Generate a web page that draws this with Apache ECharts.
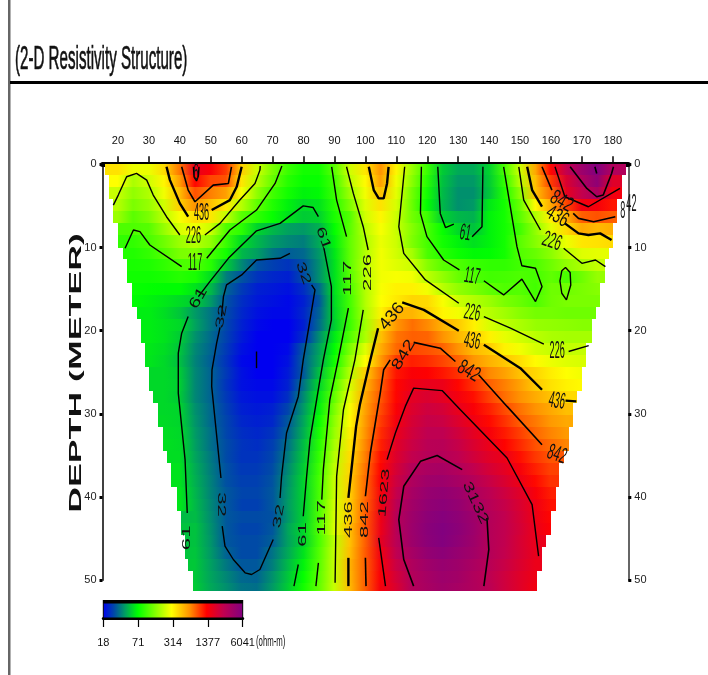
<!DOCTYPE html>
<html lang="en">
<head>
    <meta charset="UTF-8">
    <title>2-D Resistivity Structure</title>
    <script src="https://cdn.jsdelivr.net/npm/echarts@6/dist/echarts.min.js"></script>
    <style>
        html, body { margin: 0; padding: 0; background: #fff; }
        #main { width: 708px; height: 675px; }
    </style>
</head>
<body>
<div id="main"></div>
<script>
    var labelFont = '"Liberation Sans", sans-serif';

    /** tick labels */
    var distanceTicks = [20, 30, 40, 50, 60, 70, 80, 90, 100, 110, 120, 130, 140, 150, 160, 170, 180];
    var depthTicks = [0, 10, 20, 30, 40, 50];
    var colorbarLabels = ['18', '71', '314', '1377', '6041'];

    /** section grid: resistivity (ohm-m) per row at each distance column */
    var columnDistances = [15, 20, 25, 30, 35, 40, 45, 50, 55, 60, 65, 70, 75, 80, 85, 90, 95, 100, 105, 110, 115, 120, 125, 130, 135, 140, 145, 150, 155, 160, 165, 170, 175, 180, 185];
    var rowEdges = [0, 1.34, 2.78, 4.23, 5.67, 7.11, 8.55, 10, 11.44, 12.88, 14.32, 15.76, 17.2, 18.65, 20.09, 21.53, 22.97, 24.41, 25.86, 27.3, 28.74, 30.18, 31.62, 33.06, 34.51, 35.95, 37.39, 38.83, 40.27, 41.72, 43.16, 44.6, 46.04, 47.48, 48.92, 50.37, 51.3];
    var rowLeft = [15.8, 17.2, 17.2, 18.5, 18.5, 20.1, 20.1, 21.5, 22.8, 22.8, 24.4, 24.4, 26, 27.3, 27.3, 28.7, 28.7, 30.1, 30.1, 31.4, 33, 33, 34.4, 34.4, 35.9, 37.3, 37.3, 39, 39, 40.3, 40.3, 41.7, 41.7, 42.8, 44.4, 44.4];
    var rowRight = [184.3, 183, 183, 181.4, 181.4, 180, 180, 178.7, 177.4, 177.4, 175.8, 175.8, 174.4, 173, 173, 171.4, 171.4, 170, 170, 168.6, 167.1, 167.1, 165.8, 165.8, 164.3, 162.8, 162.8, 161.4, 161.4, 160, 160, 158.5, 157.1, 157.1, 155.7, 155.7];
    var resistivity = [
        [420,380,280,280,400,750,1700,1400,1000,430,235,150,105,85,85,125,240,370,650,330,180,105,58,48,48,60,115,235,560,1300,2600,4200,5800,3200,2000],
        [400,310,195,240,330,600,1300,950,900,370,210,135,95,80,80,110,215,320,600,290,165,95,55,44,44,58,100,210,480,1000,2000,3300,5000,1900,1500],
        [250,230,170,200,290,480,900,720,600,300,170,110,85,72,75,105,180,290,480,270,145,85,53,42,42,56,90,165,470,780,1750,2600,3600,1500,1100],
        [240,210,150,175,240,430,650,480,360,210,130,92,72,62,66,95,150,260,380,250,140,78,52,42,44,68,85,135,320,560,950,1550,1450,1200,1000],
        [200,180,125,150,215,300,390,370,225,125,100,80,66,58,60,88,120,240,330,235,145,108,60,52,50,72,85,125,200,340,520,842,900,842,700],
        [160,150,117,122,175,250,290,235,118,98,61,52,46,44,50,78,125,215,300,230,160,115,80,62,55,72,85,110,170,270,400,560,500,540,400],
        [135,128,100,114,140,180,205,170,105,64,52,44,40,38,48,72,130,200,280,235,155,112,85,72,65,72,85,125,160,210,280,370,380,400,300],
        [118,112,92,102,122,150,155,112,85,52,45,36,32,34,44,68,130,205,290,240,190,115,95,82,75,76,85,120,135,165,215,260,270,270,230],
        [98,95,88,90,100,115,120,95,58,40,30,27,25,30,42,66,130,215,290,260,235,160,125,118,105,100,100,110,117,140,170,195,222,215,200],
        [90,88,84,84,88,95,88,64,38,30,25,23,22,29,42,66,125,210,290,300,290,215,170,135,118,110,112,117,112,130,114,140,175,175,170],
        [82,82,80,78,76,76,66,52,33,26,22,21,20,24,34,66,118,205,300,340,340,290,210,170,150,130,118,122,110,140,140,150,160,160,160],
        [78,78,76,72,68,63,58,44,30,24,21,20,19,22,31,64,112,205,310,360,410,400,300,232,205,180,150,135,117,140,150,150,150,150,150],
        [74,74,74,70,64,56,44,36,29,23,20,19,19,23,33,62,110,200,340,520,520,425,330,290,230,210,185,160,145,145,140,140,140,140,140],
        [72,72,72,70,66,62,46,36,28,22,19,18,18,22,35,60,108,190,400,640,780,680,520,440,340,250,215,195,175,170,165,160,160,160,160],
        [70,70,70,70,66,58,42,34,27,21,18,18,18,24,42,70,122,200,480,760,840,820,640,500,430,340,270,240,212,195,190,190,190,190,190],
        [68,68,68,68,64,56,40,33,26,20,18,18,19,31,46,76,150,260,540,800,950,900,830,650,500,440,340,290,245,228,222,225,220,220,220],
        [67,67,67,67,62,54,39,32,25,19,18,18,20,32,48,84,175,310,620,1000,1150,1080,960,830,640,530,460,390,320,280,260,250,250,250,250],
        [66,66,66,66,62,58,40,33,26,20,18,18,21,31,54,100,205,430,780,1200,1400,1350,1200,1050,880,690,590,470,410,350,310,290,280,280,280],
        [65,65,65,65,62,59,40,33,25,20,19,19,22,36,61,117,245,510,840,1300,1600,1700,1640,1300,1050,842,720,590,450,380,340,320,310,310,310],
        [65,65,65,65,62,58,40,33,26,21,20,20,24,40,68,130,270,560,870,1300,1800,2000,1800,1500,1250,980,790,660,550,470,400,370,360,360,360],
        [65,65,65,65,62,61,42,34,27,22,21,22,28,44,72,150,300,590,930,1400,1950,2300,2150,1700,1400,1150,930,770,650,560,480,440,440,440,440],
        [66,66,66,66,63,61,43,34,28,23,22,23,31,47,80,165,320,620,1000,1500,2100,2500,2400,1950,1550,1280,1050,850,740,620,560,520,520,520,520],
        [67,67,67,67,64,62,44,35,28,24,23,25,33,50,88,180,350,660,1080,1680,2250,2700,2700,2250,1780,1450,1180,980,810,700,620,580,580,580,580],
        [68,68,68,68,65,63,45,35,29,25,24,27,36,54,95,195,375,700,1150,1850,2400,2900,2950,2500,2000,1650,1320,1090,900,790,700,640,640,640,640],
        [68,68,68,68,66,64,47,37,29,25,25,28,38,56,100,205,395,720,1250,1950,2600,3050,3100,2750,2250,1850,1640,1250,1020,880,780,720,720,720,720],
        [70,70,70,70,68,66,49,38,30,26,26,29,40,58,105,215,410,750,1300,2100,3050,3500,3700,3200,2650,2150,1800,1450,1150,970,850,800,800,800,800],
        [70,70,70,70,68,66,50,39,30,27,27,30,42,60,110,225,425,780,1380,2300,3300,4000,4200,3700,3100,2500,2050,1620,1280,1050,920,850,850,850,850],
        [70,70,70,70,68,67,51,39,31,28,28,31,44,61,115,235,440,820,1450,2600,3700,4500,4800,4300,3400,2800,2300,1850,1430,1150,980,900,900,900,900],
        [70,70,70,70,68,67,52,40,31,27,27,31,45,60,118,245,450,842,1550,2900,3900,4800,5200,4600,3700,3000,2500,2000,1560,1230,1040,950,950,950,950],
        [70,70,70,70,68,66,53,41,31,29,29,30,44,60,117,250,440,860,1620,3000,4100,5100,5600,5000,4100,3150,2650,2100,1600,1300,1100,1000,1000,1000,1000],
        [68,68,68,68,66,64,55,42,31,28,28,31,47,62,120,255,480,870,1650,3000,4200,5300,5900,5200,4200,3120,2650,2150,1650,1350,1150,1050,1050,1050,1050],
        [68,68,68,68,66,62,55,43,31,29,29,32,46,60,113,215,470,842,1750,2900,4100,5200,5800,5000,4100,3100,2650,2100,1680,1400,1200,1100,1100,1100,1100],
        [68,68,68,68,66,62,56,44,33,29,29,36,48,66,120,225,490,860,1550,2700,3700,4700,5200,4500,3900,3120,2600,2100,1700,1450,1250,1150,1150,1150,1150],
        [68,68,68,68,66,62,57,46,37,31,31,38,52,72,122,225,520,842,1450,2400,3300,4000,4500,4100,3500,2950,2450,2000,1650,1400,1250,1150,1150,1150,1150],
        [68,68,68,68,66,62,57,47,40,34,33,42,56,78,125,222,500,842,1400,2150,3100,3700,4200,3900,3300,2800,2300,1900,1600,1350,1200,1100,1100,1100,1100],
        [68,68,68,68,66,62,58,48,42,36,35,44,58,84,128,226,490,842,1450,2000,3100,3600,4000,3700,3300,2900,2300,1900,1550,1300,1150,1050,1050,1050,1050]
    ];

    /** contour lines, [distance, depth] */
    var contour32 = [
        [[53.5,18.3],[54.1,15.9],[55.1,14.5],[55.7,14.3],[60,13.3],[64.8,11.5],[72.4,11.3],[75.6,10.7]],
        [[82.6,14.5],[83.7,15.1],[82.1,18.7],[79.9,23.5],[78.3,27.9],[74.5,32.3],[72.9,37.5],[72.4,40.1]],
        [[70.2,45.1],[65.9,48.7],[63.2,49.3],[61.1,49.1],[57.3,47.5],[54.6,45.9],[53.7,43.5]],
        [[53.3,37.7],[50.3,26.7],[50.4,24.7],[51.9,21.5],[53,19.6]],
        [[64.8,22.5],[64.8,24.5]]
    ];
    var contour61 = [
        [[46,15.9],[49.7,14.1],[55.7,11.3],[64.8,8],[72.4,7.1],[79.9,5],[83.1,5.2],[84.8,6.3]],
        [[86.6,10.1],[89,14.7],[89,18.7],[86.4,23.5],[85.3,25.9],[82.1,33.1],[81,37.5],[79.9,42.3]],
        [[78.3,48.1],[76.9,50.7]],
        [[42.4,41.9],[41.7,35.5],[39.5,27.5],[39.5,22.7],[40.6,20.3],[42.7,18.3]],
        [[123.4,0.3],[124.2,5.9],[125.9,7.6],[128.6,7.2]],
        [[134.5,8.7],[137.7,7.5],[138,0.3]]
    ];
    var contour117 = [
        [[22.3,10.1],[25,7.9],[27.1,8.1],[30.3,9.7],[40.6,12.3]],
        [[48.7,11.3],[56.2,7.9],[64.8,5.5],[70.8,2.3],[73,0.2]],
        [[89.1,0.3],[90.7,4.3],[93.9,8.7]],
        [[94.5,17.3],[91.2,23.5],[88.5,28.3],[86.4,36.7],[85.9,40.3]],
        [[84.8,47.9],[84,50.7]],
        [[118.1,0.3],[117.8,5.9],[119.9,8.7],[125.3,11.5],[130.4,12.7]],
        [[138.3,14],[144.7,15.7],[150.6,13.8],[155,16.5],[157.1,14.7],[155,12.5],[150.6,12.2],[149,9.9],[144.7,0.3]],
        [[164.7,12.4],[166.2,13],[166.4,14.5],[165,16.3],[163.5,15.5],[162.9,14],[163.5,12.8],[164.7,12.4]]
    ];
    var contour226 = [
        [[18.5,4.9],[20.1,3.7],[22.8,1.5],[26,1.1],[29.3,1.9],[31.4,3.7],[35.7,6.3],[40,8.5]],
        [[48.1,8.5],[53,7.1],[59.4,4.3],[64.3,2.3],[65.9,0.7],[66,0.2]],
        [[93.9,0.3],[96.1,3.5],[99.3,7.5],[100.9,10.3]],
        [[99.3,17.5],[96.6,23.5],[92.9,29.5],[90.7,37.5],[90.2,50.3]],
        [[112.7,0.3],[110.8,7.5],[112.4,10.7],[119.4,13.9],[130.2,16.7]],
        [[138.3,18.3],[146.9,19.7],[157.7,21.6]],
        [[165.7,22.5],[172.2,21.8]],
        [[149.6,0.3],[151.2,4.3],[156.6,7.9]],
        [[164.1,10.1],[170,11.9],[174.4,11.5],[177.6,12.3]]
    ];
    var contour436 = [
        [[35.7,0.3],[36.8,1.9],[40,4.7],[42.7,6.3]],
        [[50.3,5.5],[56.2,4.3],[58.4,2.7],[60,0.3]],
        [[101.1,0.3],[102.7,3.1],[104.3,4.1],[105.9,4.1],[107,2.3],[107.5,0.3]],
        [[104.1,19.7],[101.6,23.5],[98.2,28.9],[97,31.5],[94.5,40.1]],
        [[94.5,47.3],[94.5,50.7]],
        [[111.9,16.6],[118.9,17.5],[130.2,20]],
        [[138.3,21.7],[150.1,24.5],[157.1,27.1]],
        [[164.7,28.4],[168.2,28.5]],
        [[152.3,0.3],[153.9,3.1],[157.1,5.1]],
        [[164.5,7.1],[168.9,8.3],[172.1,8.5],[175.9,8.3],[179.6,9.1]]
    ];
    var contour842 = [
        [[40.6,0.3],[42.7,3.1],[44.9,4.5],[50.8,2.5],[55.7,2.3],[56.7,0.3]],
        [[100,39.9],[101.6,34.7],[104.8,27.5],[105.9,24.7],[108,23.5]],
        [[100,47.3],[100.2,50.7]],
        [[115.6,21.4],[124.2,22.1],[129.1,23.7]],
        [[136.6,25.3],[145.8,29.1],[157.1,33.7]],
        [[157.1,0.3],[160.3,3.1]],
        [[167.2,5.9],[168.9,6.5],[173.8,6.9],[180.8,6.3]]
    ];
    var contour1623 = [
        [[107,35.5],[109.7,32.3],[112.9,29.1],[115.6,26.9],[124.8,27.2],[130.7,29.5],[145.8,35.3],[153.9,40.9],[156,47.1]],
        [[104.3,44.9],[106.5,50.7]],
        [[161.3,0.3],[164.5,3.9],[172.1,5.1],[182.3,2.9]],
        [[44.4,0.3],[44.6,1.5],[45.4,2],[46,1.4],[46.2,0.3]]
    ];
    var contour3132 = [
        [[115.6,50.7],[112.4,47.5],[110.8,42.7],[112.4,38.7],[117.8,35.7],[123.2,35],[131.3,36.7]],
        [[139.3,42.5],[139.9,46.3],[138.3,50.7]],
        [[166.2,0.3],[171.6,2.9],[174.8,3.9],[176.9,3.7],[179.6,1.1],[180.2,0.3]],
        [[174.2,0.3],[174.8,1.1]]
    ];

    /** contour labels: distance, depth, text, rotation */
    var contourLabels = [
        [47,5.9,'436',0],[44.4,8.7,'226',0],[44.9,11.9,'117',0],[46,16.1,'61',60],[53.5,18.3,'32',80],
        [86.4,8.9,'61',-70],[79.9,13.1,'32',-70],[94.5,13.7,'117',90],[100.8,13,'226',90],
        [108.6,18.3,'436',50],[112.4,22.9,'842',60],[132.3,8.3,'61',-10],[134.5,13.5,'117',-10],
        [134.5,17.9,'226',-10],[134.5,21.3,'436',-10],[133.4,24.9,'842',-30],[162,22.5,'226',0],
        [161.9,28.5,'436',-10],[161.9,34.9,'842',-20],[160.3,9.3,'226',-20],[162,6.3,'436',-30],
        [163.4,4.5,'842',-30],[183.2,5.7,'8',0],[186,4.9,'42',0],[135.6,40.7,'3132',-65],
        [106.1,39.5,'1623',85],[100,42.7,'842',90],[94.8,42.7,'436',90],[85.9,42.5,'117',90],
        [79.9,44.5,'61',90],[72,42.3,'32',80],[53.2,40.9,'32',-90],[42.2,44.9,'61',90],[45.2,1.1,'6',0]
    ];

    /** colour bar: position on the log scale, colour */
    var colorPositions = [0, 0.08, 0.16, 0.25, 0.37, 0.49, 0.62, 0.74, 0.86, 1];
    var colorValues = ['#0000f0', '#0048a8', '#00a060', '#00ff00', '#80ff00', '#ffff00', '#ff9000', '#ff0000', '#c00050', '#800080'];
    var minResistivity = 18;
    var maxResistivity = 6041;

    function colorAt(t) {
        t = Math.max(0, Math.min(1, t));
        for (var i = 1; i < colorPositions.length; i++) {
            if (t <= colorPositions[i]) {
                var f = (t - colorPositions[i - 1]) / (colorPositions[i] - colorPositions[i - 1]);
                return echarts.color.lerp(f, [colorValues[i - 1], colorValues[i]]);
            }
        }
        return colorValues[colorValues.length - 1];
    }
    function resistivityColor(v) {
        return colorAt(Math.log(v / minResistivity) / Math.log(maxResistivity / minResistivity));
    }

    /** one rectangle per row, coloured across its columns */
    function renderSectionRow(params, api) {
        var k = params.dataIndex;
        var left = rowLeft[k], right = rowRight[k];
        var a = api.coord([left, rowEdges[k]]);
        var b = api.coord([right, rowEdges[k + 1]]);
        var stops = [];
        columnDistances.forEach(function (x, i) {
            if (x >= left && x <= right) {
                stops.push({offset: (x - left) / (right - left), color: resistivityColor(resistivity[k][i])});
            }
        });
        stops.unshift({offset: 0, color: stops[0].color});
        stops.push({offset: 1, color: stops[stops.length - 1].color});
        var top = Math.round(a[1]), bottom = Math.round(b[1]);
        return {
            type: 'rect',
            shape: {x: Math.round(a[0]), y: top, width: Math.round(b[0] - a[0]), height: bottom - top},
            style: {fill: new echarts.graphic.LinearGradient(0, 0, 1, 0, stops)}
        };
    }

    /** contour values printed on the lines, tall and narrow like the rest of the picture */
    function renderContourLabel(params, api) {
        var l = contourLabels[params.dataIndex];
        var p = api.coord([l[0], l[1]]);
        var r = l[3] * Math.PI / 180;
        var c = Math.cos(r), s = Math.sin(r);
        return {
            type: 'text',
            x: p[0],
            y: p[1],
            rotation: r,
            scaleX: Math.sqrt(c * c * 0.49 + s * s * 2.9),
            scaleY: Math.sqrt(s * s * 0.7 + c * c * 3.2),
            style: {text: l[2], font: '13px ' + labelFont, fill: '#111', textAlign: 'center', textVerticalAlign: 'middle'}
        };
    }

    function renderColorbar(params, api) {
        var a = api.coord([0, 1]);
        var b = api.coord([colorbarLabels.length - 1, 0]);
        var stops = colorPositions.map(function (p, i) {
            return {offset: p, color: colorValues[i]};
        });
        return {
            type: 'group',
            children: [
                {type: 'rect', shape: {x: a[0], y: a[1], width: b[0] - a[0], height: b[1] - a[1]}, style: {fill: new echarts.graphic.LinearGradient(0, 0, 1, 0, stops), stroke: '#000', lineWidth: 1}},
                {type: 'rect', shape: {x: a[0] - 0.5, y: a[1] - 3, width: b[0] - a[0] + 1, height: 3}, style: {fill: '#000'}}
            ]
        };
    }

    function contourSeries(lines, width) {
        return lines.map(function (line) {
            return {
                type: 'line',
                data: line,
                xAxisIndex: 0,
                yAxisIndex: 0,
                showSymbol: false,
                silent: true,
                clip: false,
                z: 5,
                lineStyle: {color: '#000', width: width}
            };
        });
    }

    var myChart = echarts.init(document.getElementById('main'), null, {renderer: 'canvas'});

    var series = [
        {
            type: 'custom',
            xAxisIndex: 0,
            yAxisIndex: 0,
            clip: false,
            silent: true,
            z: 2,
            data: resistivity.map(function (row, k) { return [rowLeft[k], rowEdges[k]]; }),
            renderItem: renderSectionRow
        },
        {
            type: 'custom',
            xAxisIndex: 1,
            yAxisIndex: 2,
            clip: false,
            silent: true,
            data: [[0, 0]],
            renderItem: renderColorbar
        }
    ].concat(
        contourSeries(contour32, 1.4),
        contourSeries(contour61, 1.4),
        contourSeries(contour117, 1.4),
        contourSeries(contour226, 1.4),
        contourSeries(contour436, 2.4),
        contourSeries(contour842, 1.6),
        contourSeries(contour1623, 1.4),
        contourSeries(contour3132, 1.6)
    );
    series.push({
        type: 'custom',
        xAxisIndex: 0,
        yAxisIndex: 0,
        clip: false,
        silent: true,
        z: 6,
        data: contourLabels.map(function (l) { return [l[0], l[1]]; }),
        renderItem: renderContourLabel
    });

    var option = {
        animation: false,
        grid: [
            {left: 102.5, top: 164.3, width: 525.8, height: 416},
            {left: 103.3, top: 603, width: 139.4, height: 15}
        ],
        xAxis: [
            {
                type: 'value', gridIndex: 0, position: 'top', min: 15, max: 185,
                splitLine: {show: false},
                axisLine: {lineStyle: {color: '#000', width: 5}},
                axisTick: {customValues: distanceTicks, length: 8, lineStyle: {color: '#000', width: 1.5}},
                axisLabel: {customValues: distanceTicks, margin: 18, color: '#111', fontFamily: labelFont, fontSize: 11}
            },
            {
                type: 'value', gridIndex: 1, position: 'bottom', min: 0, max: colorbarLabels.length - 1, interval: 1,
                splitLine: {show: false},
                axisLine: {lineStyle: {color: '#000', width: 3}},
                axisTick: {length: 9, lineStyle: {color: '#000', width: 1.2}},
                axisLabel: {
                    margin: 19, color: '#111', fontFamily: labelFont, fontSize: 11,
                    formatter: function (v) { return colorbarLabels[v]; }
                }
            }
        ],
        yAxis: [
            {
                type: 'value', gridIndex: 0, position: 'left', inverse: true, min: 0, max: 50, interval: 10,
                splitLine: {show: false},
                axisLine: {onZero: false, lineStyle: {color: '#000', width: 1.5}},
                axisTick: {length: 3, lineStyle: {color: '#000', width: 3}},
                axisLabel: {margin: 6, color: '#222', fontFamily: labelFont, fontSize: 11}
            },
            {
                type: 'value', gridIndex: 0, position: 'right', inverse: true, min: 0, max: 50, interval: 10,
                splitLine: {show: false},
                axisLine: {onZero: false, lineStyle: {color: '#333', width: 1.5}},
                axisTick: {length: 3, lineStyle: {color: '#000', width: 3}},
                axisLabel: {margin: 6, color: '#222', fontFamily: labelFont, fontSize: 11}
            },
            {type: 'value', gridIndex: 1, min: 0, max: 1, show: false}
        ],
        graphic: [
            {type: 'rect', shape: {x: 8, y: 0, width: 2.5, height: 675}, style: {fill: '#666'}},
            {type: 'rect', shape: {x: 10, y: 81, width: 698, height: 3}, style: {fill: '#000'}},
            {
                type: 'text', x: 15, y: 60, scaleX: 0.89, scaleY: 2, z: 10,
                style: {text: '(2-D Resistivity Structure)', font: '17px "Liberation Sans Narrow", "Liberation Sans"', fill: '#111', stroke: '#111', lineWidth: 0.35, textAlign: 'left', textVerticalAlign: 'middle'}
            },
            {
                type: 'text', x: 76, y: 373, rotation: Math.PI / 2, scaleX: 2.1, z: 10,
                style: {text: 'DEPTH (METER)', font: 'bold 17px "Liberation Sans"', fill: '#111', textAlign: 'center', textVerticalAlign: 'middle'}
            },
            {
                type: 'text', x: 256, y: 642, scaleX: 0.65, scaleY: 1.2, z: 10,
                style: {text: '(ohm-m)', font: '12px ' + labelFont, fill: '#111', textAlign: 'left', textVerticalAlign: 'middle'}
            }
        ],
        series: series
    };
    myChart.setOption(option);
</script>
</body>
</html>
